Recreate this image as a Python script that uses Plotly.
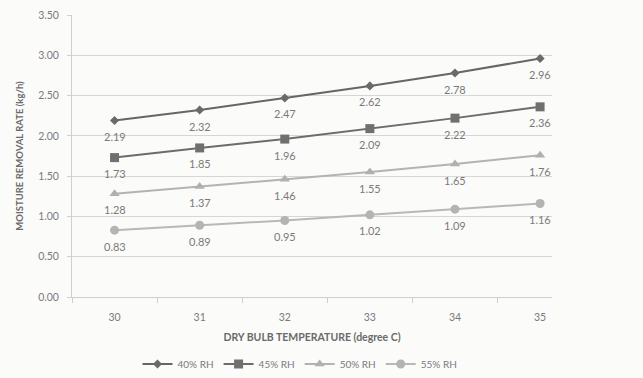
import plotly.graph_objects as go

temps = [30, 31, 32, 33, 34, 35]
rh40 = [2.19, 2.32, 2.47, 2.62, 2.78, 2.96]
rh45 = [1.73, 1.85, 1.96, 2.09, 2.22, 2.36]
rh50 = [1.28, 1.37, 1.46, 1.55, 1.65, 1.76]
rh55 = [0.83, 0.89, 0.95, 1.02, 1.09, 1.16]
series_names = ["40% RH", "45% RH", "50% RH", "55% RH"]
y_ticks = [0.0, 0.5, 1.0, 1.5, 2.0, 2.5, 3.0, 3.5]

FONT = "Lato"
styles = [
    dict(line="#666666", marker="#6a6a6a", symbol="diamond", size=7),
    dict(line="#6c6c6c", marker="#707070", symbol="square", size=9),
    dict(line="#b3b3b3", marker="#b0b0b0", symbol="triangle-up", size=9),
    dict(line="#b8b8b8", marker="#b4b4b4", symbol="circle", size=9),
]

fig = go.Figure()
for name, vals, st in zip(series_names, [rh40, rh45, rh50, rh55], styles):
    fig.add_trace(go.Scatter(
        x=temps, y=vals, name=name, mode="lines+markers",
        line=dict(color=st["line"], width=2),
        marker=dict(color=st["marker"], symbol=st["symbol"], size=st["size"]),
    ))
    # value labels under each point
    for t, v in zip(temps, vals):
        fig.add_annotation(x=t, y=v, text=f"{v:.2f}", showarrow=False,
                           yshift=-16, font=dict(family=FONT, size=11, color="#7a7a7a"))

fig.update_layout(
    width=643, height=378,
    margin=dict(l=72, r=91, t=15, b=81),
    paper_bgcolor="#fbfbfa", plot_bgcolor="#fbfbfa",
    font=dict(family=FONT, color="#6f6f6f", size=10),
    showlegend=True,
    legend=dict(orientation="h", x=0.475, xanchor="center",
                yref="container", y=0.037, yanchor="middle",
                font=dict(family=FONT, size=10, color="#7a7a7a"),
                itemwidth=30, tracegroupgap=0, bgcolor="rgba(0,0,0,0)"),
    xaxis=dict(
        range=[29.5, 35.14], tickmode="array", tickvals=temps,
        ticktext=[str(t) for t in temps], ticks="", showgrid=False,
        showline=True, linecolor="#cfcfcf", linewidth=1, zeroline=False,
        automargin=False, ticklabelstandoff=10,
        tickfont=dict(family=FONT, size=10.5, color="#7a7a7a"),
        minor=dict(tickmode="array", tickvals=[29.5, 30.5, 31.5, 32.5, 33.5, 34.5],
                   ticks="outside", ticklen=5, tickcolor="#cfcfcf", showgrid=False),
        title=dict(text="<b>DRY BULB TEMPERATURE (degree C)</b>", standoff=12,
                   font=dict(family=FONT, size=10.5, color="#6a6a6a")),
    ),
    yaxis=dict(
        range=[0, 3.5], tickmode="array", tickvals=y_ticks,
        ticktext=[f"{v:.2f}" for v in y_ticks],
        ticks="outside", ticklen=4, tickcolor="#cfcfcf",
        showgrid=True, gridcolor="#d6d6d6", gridwidth=1,
        showline=True, linecolor="#cfcfcf", linewidth=1, zeroline=False,
        automargin=False, ticklabelstandoff=6,
        tickfont=dict(family=FONT, size=10.5, color="#7a7a7a"),
        title=dict(text="<b>MOISTURE REMOVAL RATE (kg/h)</b>", standoff=12,
                   font=dict(family=FONT, size=9.5, color="#6a6a6a")),
    ),
)

fig.write_html("out.html")
